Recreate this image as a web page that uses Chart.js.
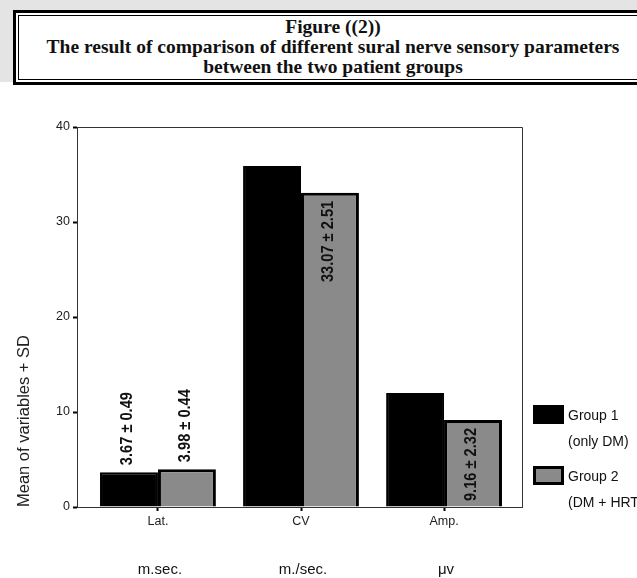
<!DOCTYPE html>
<html>
<head>
<meta charset="utf-8">
<script src="https://cdn.jsdelivr.net/npm/chart.js@4.4.1/dist/chart.umd.min.js"></script>
<style>
  html, body { margin: 0; padding: 0; background: #fff; }
  body { width: 637px; height: 578px; position: relative; overflow: hidden; }
  #chart { position: absolute; left: 0; top: 0; }
  .shade { position: absolute; left: 0; top: 0; width: 637px; height: 82px; background: #e4e4e4; }
  .frame { position: absolute; left: 13px; top: 10px; width: 634px; height: 69px; border: 3px solid #000; background: #fff; }
  .frame-inner { position: absolute; left: 2px; top: 2px; right: 2px; bottom: 2px; border: 1px solid #000;
    font-family: "Liberation Serif", "Times New Roman", serif; font-weight: bold; font-size: 19.5px;
    line-height: 20px; text-align: center; color: #111; padding-top: 1px; box-sizing: border-box; }
</style>
</head>
<body>
<canvas id="chart" width="637" height="578"></canvas>
<div class="shade"></div>
<div class="frame">
  <div class="frame-inner">
    Figure ((2))<br>
    The result of comparison of different sural nerve sensory parameters<br>
    between the two patient groups
  </div>
</div>
<script>
// data
const categories = ["Lat.", "CV", "Amp."];
const units = ["m.sec.", "m./sec.", "μv"];
const group1 = [3.67, 35.9, 12.0];
const group2 = [3.98, 33.07, 9.16];
const group1Labels = ["3.67 ± 0.49", "", ""];
const group2Labels = ["3.98 ± 0.44", "33.07 ± 2.51", "9.16 ± 2.32"];
const yTicks = [0, 10, 20, 30, 40];
const legendLines = [["Group 1", "(only DM)"], ["Group 2", "(DM + HRT)"]];

const sans = "'Liberation Sans', Arial, sans-serif";

// rotated value labels on the bars (narrowed a bit along the text)
const barLabels = {
  id: "barLabels",
  afterDatasetsDraw(chart) {
    const ctx = chart.ctx;
    const squeeze = 0.86;
    chart.data.datasets.forEach((ds, i) => {
      const meta = chart.getDatasetMeta(i);
      meta.data.forEach((el, j) => {
        const text = ds.valueLabels[j];
        if (!text) return;
        ctx.save();
        ctx.translate(el.x - 2, el.y);
        ctx.rotate(-Math.PI / 2);
        ctx.scale(squeeze, 1);
        ctx.font = "bold 17px " + sans;
        ctx.fillStyle = "#111";
        ctx.textBaseline = "middle";
        if (el.base - el.y > 70) {
          ctx.textAlign = "right";
          ctx.fillText(text, -8 / squeeze, 0);
        } else {
          ctx.textAlign = "left";
          ctx.fillText(text, 7 / squeeze, 0);
        }
        ctx.restore();
      });
    });
  }
};

// plot frame, legend and unit row
const extras = {
  id: "extras",
  afterDraw(chart) {
    const ctx = chart.ctx;
    const a = chart.chartArea;
    ctx.save();
    ctx.strokeStyle = "#333";
    ctx.lineWidth = 1;
    ctx.beginPath();
    ctx.moveTo(a.left, a.top + 0.5);
    ctx.lineTo(a.right + 0.5, a.top + 0.5);
    ctx.lineTo(a.right + 0.5, a.bottom);
    ctx.stroke();

    // legend
    const tops = [405, 466];
    chart.data.datasets.forEach((ds, i) => {
      const x = a.right + 11;
      const y = tops[i];
      ctx.fillStyle = ds.backgroundColor;
      ctx.fillRect(x, y, 31, 19);
      ctx.strokeStyle = "#000";
      ctx.lineWidth = 3;
      ctx.strokeRect(x + 1.5, y + 1.5, 28, 16);
      ctx.fillStyle = "#111";
      ctx.font = "14px " + sans;
      ctx.textAlign = "left";
      ctx.textBaseline = "middle";
      ctx.fillText(legendLines[i][0], x + 35, y + 11);
      ctx.fillText(legendLines[i][1], x + 35, y + 37);
    });

    // units under category labels
    const xs = chart.scales.x;
    ctx.font = "15px " + sans;
    ctx.fillStyle = "#111";
    ctx.textAlign = "center";
    ctx.textBaseline = "middle";
    units.forEach((u, i) => ctx.fillText(u, xs.getPixelForValue(i) + 2, a.bottom + 63));
    ctx.restore();
  }
};

const config = {
  type: "bar",
  data: {
    datasets: [
      {
        label: legendLines[0].join(" "),
        data: group1.map((v, i) => ({ x: i, y: v })),
        valueLabels: group1Labels,
        backgroundColor: "#000",
        borderColor: "#000",
        borderWidth: 2,
      },
      {
        label: legendLines[1].join(" "),
        data: group2.map((v, i) => ({ x: i, y: v })),
        valueLabels: group2Labels,
        backgroundColor: "#8a8a8a",
        borderColor: "#000",
        borderWidth: 3,
      },
    ],
  },
  options: {
    responsive: false,
    animation: false,
    layout: {
      padding: { left: 0, top: 127, right: 115, bottom: 0 },
    },
    categoryPercentage: 0.81,
    barPercentage: 1.0,
    scales: {
      x: {
        type: "linear",
        offset: false,
        min: -0.566,
        max: 2.545,
        afterBuildTicks: (s) => { s.ticks = categories.map((c, i) => ({ value: i })); },
        afterFit: (s) => { s.height = 71; },
        ticks: {
          callback: (v) => categories[v],
          font: { family: sans, size: 12.5 },
          color: "#222",
          padding: 3,
          maxRotation: 0,
        },
        grid: { offset: false, drawOnChartArea: false, tickLength: 4, tickWidth: 2, tickColor: "#000" },
        border: { color: "#333", width: 1 },
      },
      y: {
        min: 0,
        max: 40,
        afterBuildTicks: (s) => { s.ticks = yTicks.map((v) => ({ value: v })); },
        afterFit: (s) => { s.width = 77; },
        ticks: {
          font: { family: sans, size: 12.5 },
          color: "#222",
          padding: 3,
        },
        grid: { drawOnChartArea: false, tickLength: 4, tickWidth: 2, tickColor: "#000" },
        border: { color: "#333", width: 1 },
        title: {
          display: true,
          text: "Mean of variables + SD",
          align: "start",
          font: { family: sans, size: 16.5 },
          color: "#222",
          padding: { top: 15, bottom: 0 },
        },
      },
    },
    plugins: {
      legend: { display: false },
      tooltip: { enabled: false },
    },
  },
  plugins: [barLabels, extras],
};

new Chart(document.getElementById("chart"), config);
</script>
</body>
</html>
